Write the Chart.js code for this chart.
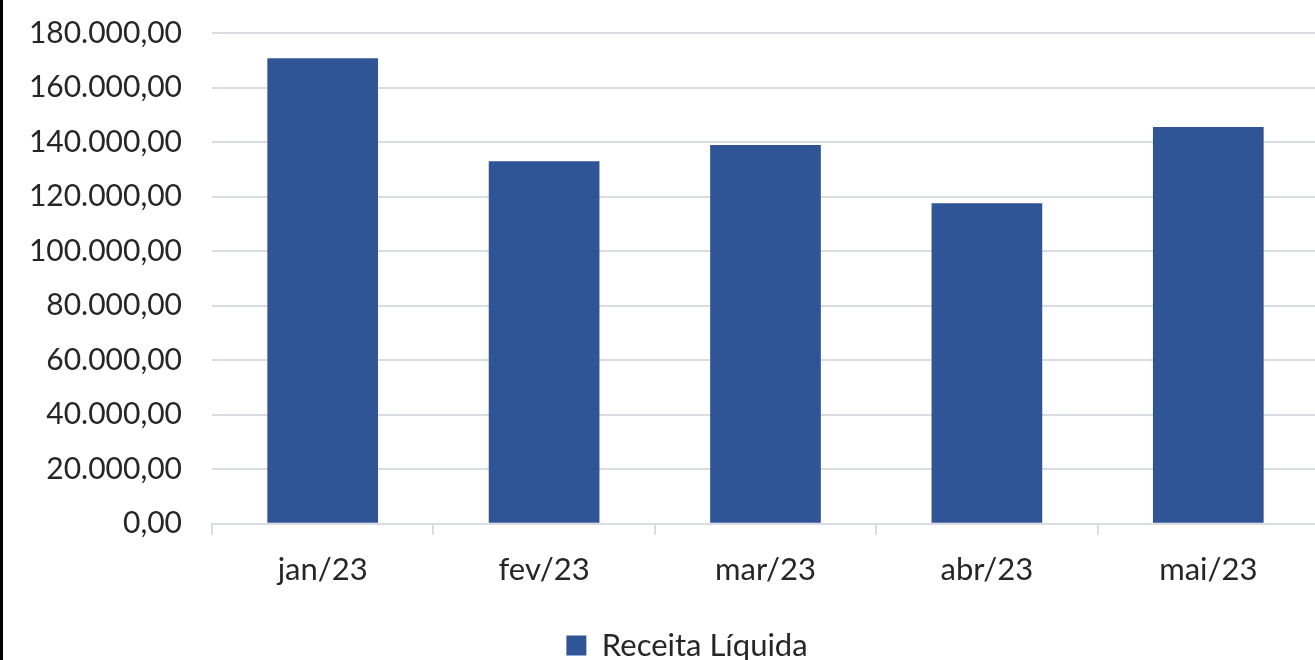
<!DOCTYPE html>
<html>
<head>
<meta charset="utf-8">
<script src="https://cdn.jsdelivr.net/npm/chart.js@4"></script>
<style>
  html, body { margin: 0; padding: 0; background: #fff; overflow: hidden; }
  .wrap { position: absolute; left: 0; top: 0; width: 1320px; height: 660px; overflow: hidden; border-left: 3px solid #000; background: #fff; }
  canvas { display: block; }
</style>
</head>
<body>
<div class="wrap"><canvas id="chart" width="1320" height="675"></canvas></div>
<script>
const months = ["jan/23", "fev/23", "mar/23", "abr/23", "mai/23"];
const receitaLiquida = [170700, 133000, 138900, 117600, 145500];
const seriesLabel = "Receita Líquida";

// 180000 -> "180.000,00"
function fmtBR(v) {
  const int = Math.round(v).toString().replace(/\B(?=(\d{3})+(?!\d))/g, ".");
  return int + ",00";
}

const gridColor = "#d9dde3";
const textColor = "#262626";
const fontFam = "Lato, 'Noto Sans', sans-serif";

// the original legend sits a bit right of the canvas centre
const legendShift = {
  id: "legendShift",
  afterLayout(chart) {
    chart.legend.left += 26;
    chart.legend.right += 26;
  },
};

const ctx = document.getElementById("chart").getContext("2d");
new Chart(ctx, {
  type: "bar",
  data: {
    labels: months,
    datasets: [{
      label: seriesLabel,
      data: receitaLiquida,
      backgroundColor: "#2f5597",
      borderColor: "#2f5597",
      borderWidth: 0,
      barPercentage: 0.5,
      categoryPercentage: 1.0,
    }],
  },
  options: {
    responsive: false,
    animation: false,
    layout: { padding: { top: 33, right: 4, bottom: 4, left: 0 } },
    plugins: {
      legend: {
        position: "bottom",
        labels: {
          color: textColor,
          font: { family: fontFam, size: 31 },
          boxWidth: 20,
          boxHeight: 20,
          padding: 8,
        },
      },
      tooltip: { enabled: false },
    },
    scales: {
      x: {
        afterFit: (scale) => { scale.height += 16; },
        grid: { display: true, drawOnChartArea: false, drawTicks: true, tickLength: 11, color: gridColor, lineWidth: 2 },
        border: { display: true, color: gridColor, width: 2 },
        ticks: { color: textColor, font: { family: fontFam, size: 31 }, padding: 17 },
      },
      y: {
        min: 0,
        max: 180000,
        afterFit: (scale) => {
          scale.width = 209;
          scale.paddingTop = 0;
          scale.paddingBottom = 0;
        },
        grid: { color: gridColor, lineWidth: 2, drawTicks: false },
        border: { display: false },
        ticks: {
          stepSize: 20000,
          color: textColor,
          font: { family: fontFam, size: 30 },
          padding: 30,
          callback: (v) => fmtBR(v),
        },
      },
    },
  },
  plugins: [legendShift],
});
</script>
</body>
</html>
